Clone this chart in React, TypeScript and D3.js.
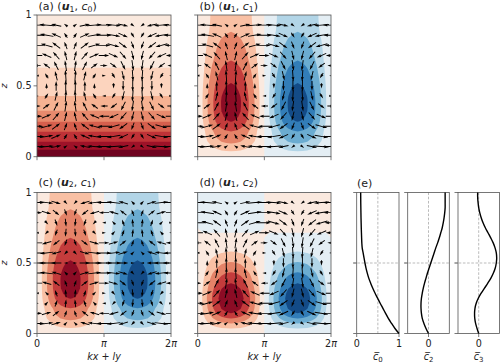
import React from "react"
import * as d3 from "d3"

// profiles sampled at z = k/28
const c0Profile = [1.0, .905, .825, .748, .683, .62, .555, .495, .435, .38, .33, .285, .25, .22, .195, .173, .152, .13, .121, .116, .112, .108, .105, .102, .1, .098, .096, .095, .094]
const c1Profile = [.12, .19, .32, .45, .54, .6, .72, .81, .86, .89, .9, .9, .885, .86, .825, .78, .735, .69, .645, .6, .565, .53, .495, .46, .42, .39, .375, .365, .36]
const c2Profile = [.08, .2, .4, .6, .8, .9, .95, .97, .94, .88, .8, .71, .62, .51, .42, .32, .22, .15, .09, .04, 0, -.03, -.06, -.08, -.1, -.11, -.12, -.12, -.12]
const c2Mean = [0, -.12, -.22, -.3, -.34, -.36, -.36, -.34, -.3, -.25, -.19, -.12, -.05, .03, .11, .19, .27, .35, .44, .52, .59, .66, .71, .75, .78, .8, .8, .8, .8]
const c3Mean = [0, -.08, -.15, -.19, -.2, -.18, -.12, -.02, .12, .28, .44, .59, .71, .8, .85, .87, .85, .79, .7, .58, .45, .32, .21, .12, .05, 0, -.03, -.05, -.05]

// wave shape along kx+ly, sampled at k/28 of the period
const waveShape = [0, .22, .43, .62, .78, .9, .97, 1, .97, .9, .78, .62, .43, .22, 0, -.22, -.43, -.62, -.78, -.9, -.97, -1, -.97, -.9, -.78, -.62, -.43, -.22, 0]
// arrow columns, k/14 of the period
const colSin = [0, .43, .78, .97, .97, .78, .43, 0, -.43, -.78, -.97, -.97, -.78, -.43, 0]
const colCos = [1, .9, .62, .22, -.22, -.62, -.9, -1, -.9, -.62, -.22, .22, .62, .9, 1]

// arrow rows, z = k/14, k = 1..13
const u1Horizontal = [1.27, 1.17, 1.01, .81, .56, .29, 0, -.29, -.56, -.81, -1.01, -1.17, -1.27]
const u1Vertical = [.21, .41, .59, .74, .86, .93, .95, .93, .86, .74, .59, .41, .21]
const u2Horizontal = [1.17, .81, .29, -.29, -.81, -1.17, -1.3, -1.17, -.81, -.29, .29, .81, 1.17]
const u2Vertical = [.28, .51, .63, .63, .51, .28, 0, -.28, -.51, -.63, -.63, -.51, -.28]

const levels8 = [-.875, -.75, -.625, -.5, -.375, -.25, -.125, 0, .125, .25, .375, .5, .625, .75, .875]
const levels5 = [-.8, -.6, -.4, -.2, 0, .2, .4, .6, .8]

const rdbuStops = ["#053061", "#2166ac", "#4393c3", "#92c5de", "#d1e5f0", "#f7f7f7", "#fddbc7", "#f4a582", "#d6604d", "#b2182b", "#67001f"]
const rdbu = d3.scaleLinear<string>().domain(d3.range(11).map((d) => d / 5 - 1)).range(rdbuStops)

const FONT = "DejaVu Sans"
const top1 = 15, bot1 = 156.7, top2 = 192.5, bot2 = 333.5
const left1 = 37, right1 = 171, left2 = 197.7, right2 = 331

function bandColor(levels: number[], i: number, shift: number) {
    const step = levels[1] - levels[0]
    const lo = i === 0 ? levels[0] - step : levels[i - 1]
    return rdbu(lo + step / 2 + shift)
}

function arrowPath(len: number) {
    // matplotlib's default quiver arrow proportions, a bit slimmer
    const w = .95
    let hl = w * 5, al = w * 4.5, hw = w * 1.5
    const f = len < hl ? len / hl : 1
    hl *= f; al *= f; hw *= f
    const sw = w / 2 * Math.max(f, .6)
    const h = len / 2
    return `M${-h},${-sw}L${h - al},${-sw}L${h - hl},${-hw}L${h},0L${h - hl},${hw}L${h - al},${sw}L${-h},${sw}Z`
}

function Frame({ x0, x1, y0, y1, xt, yLabels, xLabels }: any) {
    const ticks = [0, .5, 1]
    const z = d3.scaleLinear().domain([0, 1]).range([y1, y0])
    return (
        <g stroke="#555" strokeWidth={.8}>
            <rect x={x0} y={y0} width={x1 - x0} height={y1 - y0} fill="none" />
            {ticks.map((t) => <line key={t} x1={x0 - 3.5} x2={x0} y1={z(t)} y2={z(t)} />)}
            {xt.map((t: number) => <line key={t} x1={t} x2={t} y1={y1} y2={y1 + 3.5} />)}
            {yLabels && ticks.map((t) => (
                <text key={t} x={x0 - 5.5} y={z(t) + 3.4} textAnchor="end" fontFamily={FONT} fontSize={9.6} fill="#222" stroke="none">{t}</text>
            ))}
            {xLabels}
        </g>
    )
}

function Title({ x, y, letter, u, c }: any) {
    return (
        <text x={x} y={y} fontFamily={FONT} fontSize={11} fill="#222">
            ({letter}) (
            {u && <tspan fontWeight="bold" fontStyle="italic">u</tspan>}
            {u && <tspan fontSize={7.8} dy={1.6}>{u}</tspan>}
            <tspan dy={-1.6}>, </tspan>
            <tspan fontStyle="italic">c</tspan>
            <tspan fontSize={7.8} dy={1.6}>{c}</tspan>
            <tspan dy={-1.6}>)</tspan>
        </text>
    )
}

function Field({ id, x0, x1, y0, y1, profile, wave, levels, uRow, wRow, shift = 0 }: any) {
    const n = wave.length, m = profile.length
    const x = d3.scaleLinear().domain([0, n - 1]).range([x0, x1])
    const z = d3.scaleLinear().domain([0, m - 1]).range([y1, y0])
    const grid: number[] = []
    for (let j = 0; j < m; j++) for (let i = 0; i < n; i++) grid.push(profile[j] * wave[i])
    const gen = d3.contours().size([n, m])
    const path = d3.geoPath(d3.geoTransform({
        point(a: number, b: number) { (this as any).stream.point(x(a - .5), z(b - .5)) },
    }))
    const colX = d3.scaleLinear().domain([0, 14]).range([x0, x1])
    const rowZ = d3.scaleLinear().domain([0, 14]).range([y1, y0])
    const arrowScale = 13
    return (
        <g>
            <clipPath id={id}><rect x={x0} y={y0} width={x1 - x0} height={y1 - y0} /></clipPath>
            <g clipPath={`url(#${id})`}>
                <rect x={x0} y={y0} width={x1 - x0} height={y1 - y0} fill={bandColor(levels, 0, shift)} />
                {levels.map((l: number, i: number) => (
                    <path key={l} d={path(gen.contour(grid, l)) || ""} fill={bandColor(levels, i + 1, shift)} />
                ))}
                {uRow.map((u: number, r: number) => colSin.map((s, k) => {
                    const du = u * colCos[k] * arrowScale
                    const dw = wRow[r] * s * arrowScale
                    const len = Math.hypot(du, dw)
                    const ang = Math.atan2(-dw, du) * 180 / Math.PI
                    return <path key={`${r}-${k}`} d={arrowPath(len)} fill="#000"
                        transform={`translate(${colX(k)},${rowZ(r + 1)}) rotate(${ang})`} />
                }))}
            </g>
        </g>
    )
}

function Profile({ x0, x1, y0, y1, domain, values, mid, labelSub, tickVals, tickLabels }: any) {
    const x = d3.scaleLinear().domain(domain).range([x0, x1])
    const z = d3.scaleLinear().domain([0, 1]).range([y1, y0])
    const line = d3.line<number>().x((d) => x(d)).y((_, i) => z(i / 28)).curve(d3.curveCatmullRom)
    const cx = x(mid)
    return (
        <g>
            <line x1={cx} x2={cx} y1={y0} y2={y1} stroke="#aaa" strokeWidth={.8} strokeDasharray="2.6,1.6" />
            <line x1={x0 - 3.5} x2={x1} y1={z(.5)} y2={z(.5)} stroke="#aaa" strokeWidth={.8} strokeDasharray="2.6,1.6" />
            <Frame x0={x0} x1={x1} y0={y0} y1={y1} xt={tickVals.map((t: number) => x(t))} />
            <path d={line(values) || ""} fill="none" stroke="#000" strokeWidth={1.4} />
            {tickVals.map((t: number, i: number) => (
                <text key={t} x={x(t)} y={347} textAnchor="middle" fontFamily={FONT} fontSize={9.6} fill="#222">{tickLabels[i]}</text>
            ))}
            <text x={cx} y={360} textAnchor="middle" fontFamily={FONT} fontSize={9.6} fill="#222">
                <tspan fontStyle="italic">{"c\u0305"}</tspan>
                <tspan fontSize={7} dy={1.5}>{labelSub}</tspan>
            </text>
        </g>
    )
}

function XLabels({ x0, x1 }: any) {
    const mid = (x0 + x1) / 2
    const props = { y: 347, textAnchor: "middle", fontFamily: FONT, fontSize: 9.6, fill: "#222", stroke: "none" } as any
    return (
        <g>
            <text {...props} x={x0}>0</text>
            <text {...props} x={mid} fontStyle="italic">π</text>
            <text {...props} x={x1}>2<tspan fontStyle="italic">π</tspan></text>
            <text {...props} x={mid} y={360} fontStyle="italic">kx + ly</text>
        </g>
    )
}

export default function App() {
    const meanShape = waveShape.map(() => 1)
    const xt1 = [left1, (left1 + right1) / 2, right1]
    const xt2 = [left2, (left2 + right2) / 2, right2]
    const zLabel = (y: number) => (
        <text transform={`translate(7,${y}) rotate(-90)`} textAnchor="middle" fontFamily={FONT} fontSize={9} fontStyle="italic" fill="#222">z</text>
    )
    return (
        <svg width={500} height={364} style={{ position: "absolute", left: 0, top: 0 }}>
            <rect width={500} height={364} fill="#fff" />

            <Field id="pa" x0={left1} x1={right1} y0={top1} y1={bot1} profile={c0Profile} wave={meanShape} levels={levels8} uRow={u1Horizontal} wRow={u1Vertical} shift={.04} />
            <Frame x0={left1} x1={right1} y0={top1} y1={bot1} xt={xt1} yLabels />
            <Title x={38.5} y={10} letter="a" u="1" c="0" />
            {zLabel((top1 + bot1) / 2)}

            <Field id="pb" x0={left2} x1={right2} y0={top1} y1={bot1} profile={c1Profile} wave={waveShape} levels={levels5} uRow={u1Horizontal} wRow={u1Vertical} />
            <Frame x0={left2} x1={right2} y0={top1} y1={bot1} xt={xt2} />
            <Title x={199.5} y={10} letter="b" u="1" c="1" />

            <Field id="pc" x0={left1} x1={right1} y0={top2} y1={bot2} profile={c1Profile} wave={waveShape} levels={levels5} uRow={u2Horizontal} wRow={u2Vertical} />
            <Frame x0={left1} x1={right1} y0={top2} y1={bot2} xt={xt1} yLabels xLabels={<XLabels x0={left1} x1={right1} />} />
            <Title x={38.5} y={185.5} letter="c" u="2" c="1" />
            {zLabel((top2 + bot2) / 2)}

            <Field id="pd" x0={left2} x1={right2} y0={top2} y1={bot2} profile={c2Profile} wave={waveShape} levels={levels5} uRow={u1Horizontal} wRow={u1Vertical} />
            <Frame x0={left2} x1={right2} y0={top2} y1={bot2} xt={xt2} xLabels={<XLabels x0={left2} x1={right2} />} />
            <Title x={199.5} y={185.5} letter="d" u="1" c="2" />

            <text x={357} y={186.5} fontFamily={FONT} fontSize={11} fill="#222">(e)</text>
            <Profile x0={356.7} x1={399} y0={top2} y1={bot2} domain={[0, 1]} values={c0Profile} mid={.5} labelSub="0" tickVals={[0, 1]} tickLabels={["0", "1"]} />
            <Profile x0={407.7} x1={449.3} y0={top2} y1={bot2} domain={[-1, 1]} values={c2Mean} mid={0} labelSub="2" tickVals={[0]} tickLabels={["0"]} />
            <Profile x0={458} x1={499.4} y0={top2} y1={bot2} domain={[-1, 1]} values={c3Mean} mid={0} labelSub="3" tickVals={[0]} tickLabels={["0"]} />
        </svg>
    )
}
